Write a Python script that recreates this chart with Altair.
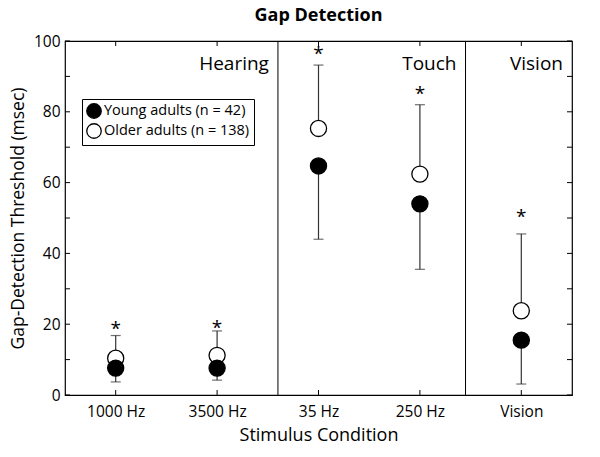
import altair as alt
import pandas as pd

conditions = ["1000 Hz", "3500 Hz", "35 Hz", "250 Hz", "Vision"]
positions = [1, 2, 3, 4, 5]
young_mean = [7.6, 7.6, 64.7, 54.0, 15.5]
young_low = [3.7, 4.2, 44.0, 35.5, 3.1]
older_mean = [10.4, 11.2, 75.3, 62.4, 23.8]
older_high = [16.8, 18.1, 93.2, 82.0, 45.5]
star_y = [19.6, 19.8, 97.2, 86.0, 51.0]

sections = ["Hearing", "Touch", "Vision"]
section_right = [2.6, 4.45, 5.5]
dividers = [2.6, 4.45]
y_ticks = [0, 10, 20, 30, 40, 50, 60, 70, 80, 90, 100]

groups = ["Young adults (n = 42)", "Older adults (n = 138)"]

FONT = "Open Sans"
W, H = 507, 354

young = pd.DataFrame({"pos": positions, "val": young_mean, "end": young_low, "group": groups[0]})
older = pd.DataFrame({"pos": positions, "val": older_mean, "end": older_high, "group": groups[1]})
pts = pd.concat([older, young])
stars = pd.DataFrame({"pos": positions, "val": star_y})
secs = pd.DataFrame({"pos": section_right, "label": sections, "val": [100] * 3})
divs = pd.DataFrame({"pos": dividers})
yt = pd.DataFrame({"val": y_ticks})
xt = pd.DataFrame({"pos": positions})

# map numeric positions back to condition names
label_expr = ("datum.value == 1 ? '1000 Hz' : datum.value == 2 ? '3500 Hz' : "
              "datum.value == 3 ? '35 Hz' : datum.value == 4 ? '250 Hz' : 'Vision'")

x_enc = alt.X("pos:Q", scale=alt.Scale(domain=[0.5, 5.5], nice=False, zero=False),
              axis=alt.Axis(values=positions, labelExpr=label_expr, title="Stimulus Condition",
                            grid=False, ticks=False, domain=False, labelPadding=9,
                            labelFontSize=15.5, titleFontSize=18, titlePadding=7,
                            labelColor="black", titleColor="black", titleFontWeight="normal",
                            labelFont=FONT, titleFont=FONT))
y_enc = alt.Y("val:Q", scale=alt.Scale(domain=[0, 100], nice=False),
              axis=alt.Axis(values=[0, 20, 40, 60, 80, 100], title="Gap-Detection Threshold (msec)",
                            grid=False, ticks=False, domain=False, labelPadding=5,
                            labelFontSize=15.5, titleFontSize=17.5, titlePadding=6,
                            labelColor="black", titleColor="black", titleFontWeight="normal",
                            labelFont=FONT, titleFont=FONT))

base = alt.Chart(pts)

bars = base.mark_rule(color="#333", strokeWidth=1.2).encode(x=x_enc, y=y_enc, y2="end:Q")
caps = base.mark_tick(color="#333", orient="horizontal", size=10, thickness=1.2).encode(
    x="pos:Q", y="end:Q")

points = base.mark_point(shape="circle", size=260, filled=False, stroke="black",
                         strokeWidth=1.3, opacity=1).encode(
    x="pos:Q", y="val:Q",
    fill=alt.Fill("group:N", scale=alt.Scale(domain=groups, range=["black", "white"]),
                  legend=alt.Legend(title=None, orient="none", legendX=17, legendY=58,
                                    strokeColor="black", padding=4, rowPadding=0,
                                    symbolType="circle", symbolSize=210,
                                    symbolStrokeColor="black", symbolStrokeWidth=1.3,
                                    labelFontSize=14.5, labelFont=FONT, labelColor="black",
                                    labelOffset=2)),
    order=alt.Order("group:N", sort="ascending"),
)

star_marks = alt.Chart(stars).mark_text(text="*", fontSize=19, font=FONT, baseline="middle",
                                         dy=3, color="black").encode(x="pos:Q", y="val:Q")

sec_labels = alt.Chart(secs).mark_text(align="right", baseline="middle", dx=-9, dy=23,
                                       fontSize=19, font=FONT, color="black").encode(
    x="pos:Q", y="val:Q", text="label:N")

div_lines = alt.Chart(divs).mark_rule(color="black", strokeWidth=1).encode(x="pos:Q")

left_t = alt.Chart(yt).mark_rule(color="black").encode(y="val:Q", x=alt.value(0), x2=alt.value(5))
right_t = alt.Chart(yt).mark_rule(color="black").encode(y="val:Q", x=alt.value(W), x2=alt.value(W - 5))
bot_t = alt.Chart(xt).mark_rule(color="black").encode(x="pos:Q", y=alt.value(H), y2=alt.value(H - 5))
top_t = alt.Chart(xt).mark_rule(color="black").encode(x="pos:Q", y=alt.value(0), y2=alt.value(5))

chart = alt.layer(
    bars, caps, div_lines, left_t, right_t, bot_t, top_t, points, star_marks, sec_labels
).properties(
    width=W, height=H,
    autosize=alt.AutoSizeParams(type="none"),
    padding={"left": 57, "top": 33, "right": 20, "bottom": 49},
    title=alt.TitleParams("Gap Detection", fontSize=18, fontWeight="bold", font=FONT,
                          color="black", offset=9),
).configure_view(stroke="black", strokeWidth=1.2)

chart.save("out.html", embed_options={"renderer": "svg", "actions": False})
